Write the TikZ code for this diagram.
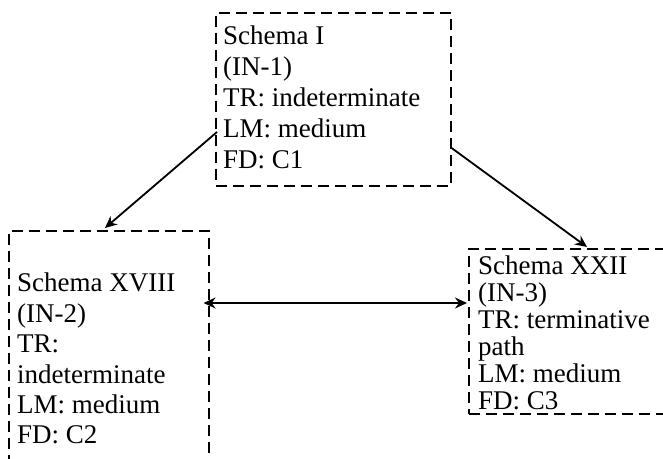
\documentclass[tikz,border=0pt]{standalone}
\usepackage{fontspec}
\setmainfont{Liberation Serif}
\usetikzlibrary{arrows.meta,calc}
\begin{document}
\begin{tikzpicture}[x=1pt,y=-1pt,
  box/.style={draw,dash pattern=on 11pt off 6pt,line width=1.6pt,rectangle,inner sep=0pt,anchor=north west},
  txt/.style={anchor=north west,align=left,inner sep=0pt},
  tip/.tip={Stealth[length=12pt,width=11pt,inset=4pt]},
  conn/.style={line width=1.8pt,-tip},
  dconn/.style={line width=1.8pt,tip-tip}]
\useasboundingbox (0,0) rectangle (663,458);
\begin{scope}
\clip (0,0) rectangle (663,458);
\node[box,minimum width=235pt,minimum height=173pt] (b1) at (215,12) {};
\node[box,minimum width=200pt,minimum height=260pt] (b2) at (8,230) {};
\node[box,minimum width=220pt,minimum height=165pt] (b3) at (468,248) {};
\node[txt,font=\fontsize{27}{31}\selectfont] (t1) at (223,26) {Schema I\\(IN-1)\\TR: indeterminate\\LM: medium\\FD: C1};
\node[txt,font=\fontsize{27}{30.4}\selectfont] (t2) at (17,273) {Schema XVIII\\(IN-2)\\TR:\\indeterminate\\LM: medium\\FD: C2};
\node[txt,font=\fontsize{27}{27}\selectfont] (t3) at (478,256) {Schema XXII\\(IN-3)\\TR: terminative\\path\\LM: medium\\FD: C3};
\end{scope}
\coordinate (s1) at ($(b1.north west)+(2,120)$);
\coordinate (e1) at ($(b2.north west)+(97,-2)$);
\coordinate (s2) at ($(b1.north east)+(0,136)$);
\coordinate (e2) at ($(b3.north west)+(119,-1)$);
\coordinate (s3) at ($(b2.north east)+(-6,73)$);
\coordinate (e3) at ($(b3.north west)+(-1,55)$);
\draw[conn] (s1) -- (e1);
\draw[conn] (s2) -- (e2);
\draw[dconn] (s3) -- (e3);
\end{tikzpicture}
\end{document}
